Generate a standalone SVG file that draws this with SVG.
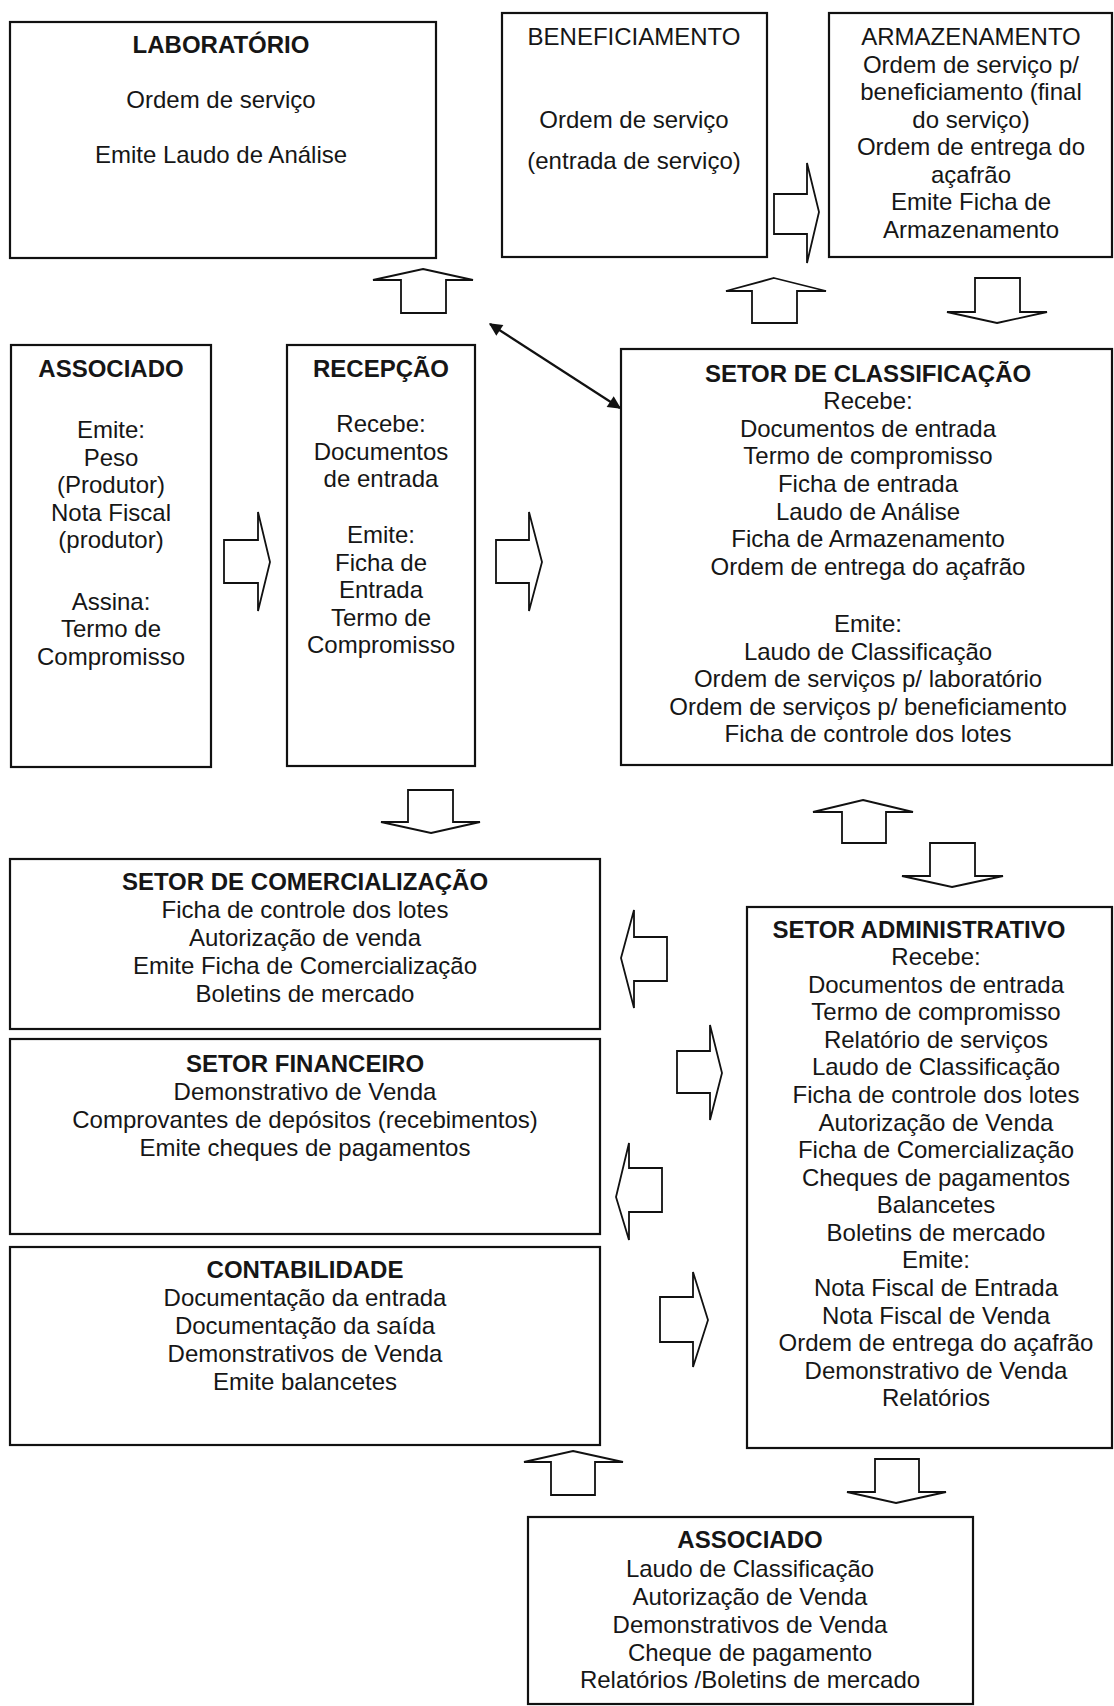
<svg xmlns="http://www.w3.org/2000/svg" width="1114" height="1706" viewBox="0 0 1114 1706">
<defs>
<style>
.box{fill:#fff;stroke:#111;stroke-width:2.2}
.blk{fill:#fff;stroke:#111;stroke-width:1.8;stroke-linejoin:miter}
text{font-family:"Liberation Sans",Arial,sans-serif;font-size:24px;fill:#161616;text-anchor:middle}
.t{font-weight:bold}
.ln{stroke:#111;stroke-width:2.2;fill:none}
</style>
<marker id="ah2" viewBox="0 0 10 10" refX="9" refY="5" markerWidth="16" markerHeight="13" orient="auto-start-reverse" markerUnits="userSpaceOnUse">
<path d="M0,0 L10,5 L0,10 z" fill="#111"/>
</marker>
</defs>
<rect width="1114" height="1706" fill="#fff"/>

<g id="laboratorio">
<rect class="box" x="10" y="22" width="426" height="236"/>
<text class="t" x="221" y="53">LABORATÓRIO</text>
<text x="221" y="108">Ordem de serviço</text>
<text x="221" y="163">Emite Laudo de Análise</text>
</g>

<g id="beneficiamento">
<rect class="box" x="502" y="13" width="265" height="244"/>
<text x="634" y="45">BENEFICIAMENTO</text>
<text x="634" y="128">Ordem de serviço</text>
<text x="634" y="169">(entrada de serviço)</text>
</g>

<g id="armazenamento">
<rect class="box" x="829" y="13" width="283" height="244"/>
<text x="971" y="45">ARMAZENAMENTO</text>
<text x="971" y="73">Ordem de serviço p/</text>
<text x="971" y="100">beneficiamento (final</text>
<text x="971" y="128">do serviço)</text>
<text x="971" y="155">Ordem de entrega do</text>
<text x="971" y="183">açafrão</text>
<text x="971" y="210">Emite Ficha de</text>
<text x="971" y="238">Armazenamento</text>
</g>

<g id="associado">
<rect class="box" x="11" y="345" width="200" height="422"/>
<text class="t" x="111" y="377">ASSOCIADO</text>
<text x="111" y="438">Emite:</text>
<text x="111" y="466">Peso</text>
<text x="111" y="493">(Produtor)</text>
<text x="111" y="521">Nota Fiscal</text>
<text x="111" y="548">(produtor)</text>
<text x="111" y="610">Assina:</text>
<text x="111" y="637">Termo de</text>
<text x="111" y="665">Compromisso</text>
</g>

<g id="recepcao">
<rect class="box" x="287" y="345" width="188" height="421"/>
<text class="t" x="381" y="377">RECEPÇÃO</text>
<text x="381" y="432">Recebe:</text>
<text x="381" y="460">Documentos</text>
<text x="381" y="487">de entrada</text>
<text x="381" y="543">Emite:</text>
<text x="381" y="571">Ficha de</text>
<text x="381" y="598">Entrada</text>
<text x="381" y="626">Termo de</text>
<text x="381" y="653">Compromisso</text>
</g>

<g id="classificacao">
<rect class="box" x="621" y="349" width="491" height="416"/>
<text class="t" x="868" y="382">SETOR DE CLASSIFICAÇÃO</text>
<text x="868" y="409">Recebe:</text>
<text x="868" y="437">Documentos de entrada</text>
<text x="868" y="464">Termo de compromisso</text>
<text x="868" y="492">Ficha de entrada</text>
<text x="868" y="520">Laudo de Análise</text>
<text x="868" y="547">Ficha de Armazenamento</text>
<text x="868" y="575">Ordem de entrega do açafrão</text>
<text x="868" y="632">Emite:</text>
<text x="868" y="660">Laudo de Classificação</text>
<text x="868" y="687">Ordem de serviços p/ laboratório</text>
<text x="868" y="715">Ordem de serviços p/ beneficiamento</text>
<text x="868" y="742">Ficha de controle dos lotes</text>
</g>

<g id="comercializacao">
<rect class="box" x="10" y="859" width="590" height="170"/>
<text class="t" x="305" y="890">SETOR DE COMERCIALIZAÇÃO</text>
<text x="305" y="918">Ficha de controle dos lotes</text>
<text x="305" y="946">Autorização de venda</text>
<text x="305" y="974">Emite Ficha de Comercialização</text>
<text x="305" y="1002">Boletins de mercado</text>
</g>

<g id="financeiro">
<rect class="box" x="10" y="1039" width="590" height="195"/>
<text class="t" x="305" y="1072">SETOR FINANCEIRO</text>
<text x="305" y="1100">Demonstrativo de Venda</text>
<text x="305" y="1128">Comprovantes de depósitos (recebimentos)</text>
<text x="305" y="1156">Emite cheques de pagamentos</text>
</g>

<g id="contabilidade">
<rect class="box" x="10" y="1247" width="590" height="198"/>
<text class="t" x="305" y="1278">CONTABILIDADE</text>
<text x="305" y="1306">Documentação da entrada</text>
<text x="305" y="1334">Documentação da saída</text>
<text x="305" y="1362">Demonstrativos de Venda</text>
<text x="305" y="1390">Emite balancetes</text>
</g>

<g id="administrativo">
<rect class="box" x="747" y="907" width="365" height="541"/>
<text class="t" x="919" y="938">SETOR ADMINISTRATIVO</text>
<text x="936" y="965">Recebe:</text>
<text x="936" y="993">Documentos de entrada</text>
<text x="936" y="1020">Termo de compromisso</text>
<text x="936" y="1048">Relatório de serviços</text>
<text x="936" y="1075">Laudo de Classificação</text>
<text x="936" y="1103">Ficha de controle dos lotes</text>
<text x="936" y="1131">Autorização de Venda</text>
<text x="936" y="1158">Ficha de Comercialização</text>
<text x="936" y="1186">Cheques de pagamentos</text>
<text x="936" y="1213">Balancetes</text>
<text x="936" y="1241">Boletins de mercado</text>
<text x="936" y="1268">Emite:</text>
<text x="936" y="1296">Nota Fiscal de Entrada</text>
<text x="936" y="1324">Nota Fiscal de Venda</text>
<text x="936" y="1351">Ordem de entrega do açafrão</text>
<text x="936" y="1379">Demonstrativo de Venda</text>
<text x="936" y="1406">Relatórios</text>
</g>

<g id="associado-final">
<rect class="box" x="528" y="1517" width="445" height="187"/>
<text class="t" x="750" y="1548">ASSOCIADO</text>
<text x="750" y="1577">Laudo de Classificação</text>
<text x="750" y="1605">Autorização de Venda</text>
<text x="750" y="1633">Demonstrativos de Venda</text>
<text x="750" y="1661">Cheque de pagamento</text>
<text x="750" y="1688">Relatórios /Boletins de mercado</text>
</g>

<g id="connectors">
<polygon class="blk" points="423,269 473,280 446,280 446,313 401,313 401,280 373,280"/>
<polygon class="blk" points="774,278 826,291 797,291 797,323 752,323 752,291 726,291"/>
<polygon class="blk" points="863,800 913,812 886,812 886,843 842,843 842,812 813,812"/>
<polygon class="blk" points="573,1451 623,1462 595,1462 595,1495 551,1495 551,1462 524,1462"/>
<polygon class="blk" points="997,323 1047,312 1020,312 1020,278 975,278 975,312 947,312"/>
<polygon class="blk" points="431,833 480,822 453,822 453,790 408,790 408,822 381,822"/>
<polygon class="blk" points="952,887 1003,876 975,876 975,843 930,843 930,876 902,876"/>
<polygon class="blk" points="896,1503 946,1492 919,1492 919,1459 875,1459 875,1492 847,1492"/>
<polygon class="blk" points="819,212 807,263 807,234 774,234 774,194 807,194 807,163"/>
<polygon class="blk" points="270,562 258,611 258,583 224,583 224,540 258,540 258,512"/>
<polygon class="blk" points="542,562 529,611 529,583 496,583 496,540 529,540 529,512"/>
<polygon class="blk" points="722,1073 710,1120 710,1093 677,1093 677,1051 710,1051 710,1025"/>
<polygon class="blk" points="708,1320 693,1367 693,1342 660,1342 660,1297 693,1297 693,1272"/>
<polygon class="blk" points="621,958 634,910 634,937 667,937 667,981 634,981 634,1008"/>
<polygon class="blk" points="616,1197 629,1143 629,1168 662,1168 662,1212 629,1212 629,1240"/>
<line class="ln" x1="490" y1="324" x2="620" y2="408" marker-start="url(#ah2)" marker-end="url(#ah2)"/>
</g>
</svg>
